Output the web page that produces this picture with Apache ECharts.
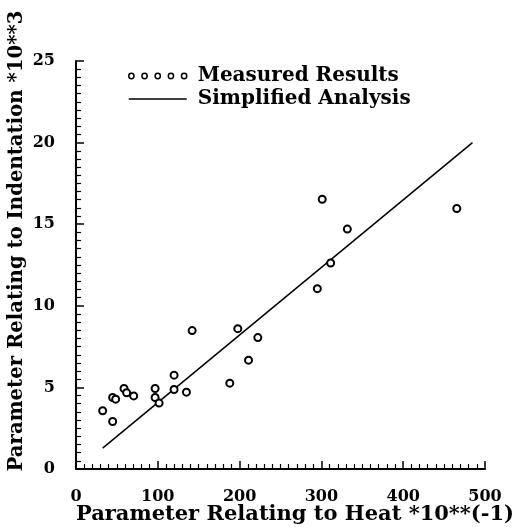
<!DOCTYPE html>
<html>
<head>
<meta charset="utf-8">
<script src="https://cdn.jsdelivr.net/npm/echarts@6/dist/echarts.min.js"></script>
<style>
html,body{margin:0;padding:0;background:#fff;}
#chart{width:523px;height:530px;}
</style>
</head>
<body>
<div id="chart"></div>
<script>
// Measured results
const measuredX = [32.6, 44.8, 44.8, 48.5, 58.7, 61.9, 70.5, 96.7, 96.7, 101.6, 119.9, 119.9, 135, 142, 188, 197.8, 210.9, 222.3, 295, 301, 311.3, 331.7, 465.5];
const measuredY = [3.57, 2.91, 4.38, 4.28, 4.93, 4.67, 4.48, 4.93, 4.38, 4.04, 5.75, 4.87, 4.71, 8.48, 5.26, 8.6, 6.67, 8.05, 11.05, 16.53, 12.62, 14.7, 15.96];
// Simplified analysis line endpoints
const analysisX = [32.6, 484.7];
const analysisY = [1.28, 20.0];
const seriesNames = ['Measured Results', 'Simplified Analysis'];
const xTitle = 'Parameter Relating to Heat *10**(-1)';
const yTitle = 'Parameter Relating to Indentation *10**3';

const FONT = 'DejaVu Serif';
const chart = echarts.init(document.getElementById('chart'));
const fiveCircles = 'path://M6.5,4A2.5,2.5 0 1,1 1.5,4A2.5,2.5 0 1,1 6.5,4Z' +
  'M19,4A2.5,2.5 0 1,1 14,4A2.5,2.5 0 1,1 19,4Z' +
  'M31.5,4A2.5,2.5 0 1,1 26.5,4A2.5,2.5 0 1,1 31.5,4Z' +
  'M44,4A2.5,2.5 0 1,1 39,4A2.5,2.5 0 1,1 44,4Z' +
  'M56.5,4A2.5,2.5 0 1,1 51.5,4A2.5,2.5 0 1,1 56.5,4Z';
const lineIcon = 'path://M0,0L58,0L58,1.5L0,1.5Z';

chart.setOption({
  animation: false,
  backgroundColor: '#fff',
  color: ['#000', '#000'],
  grid: {left: 76, right: 38, top: 61, bottom: 61, containLabel: false, outerBoundsMode: 'none'},
  legend: {
    orient: 'vertical',
    left: 123, top: 61,
    itemWidth: 58, itemHeight: 8, itemGap: 3,
    textStyle: {fontFamily: FONT, fontWeight: 'bold', fontSize: 20, color: '#000', padding: [0, 0, 0, 6]},
    data: [
      {name: seriesNames[0], icon: fiveCircles, itemStyle: {color: '#fff', borderColor: '#000', borderWidth: 1.5}},
      {name: seriesNames[1], icon: lineIcon, itemStyle: {color: '#000', borderWidth: 0}}
    ]
  },
  xAxis: {
    type: 'value', min: 0, max: 500, interval: 100,
    name: xTitle, nameLocation: 'middle', nameGap: 46, nameMoveOverlap: false,
    nameTextStyle: {fontFamily: FONT, fontWeight: 'bold', fontSize: 21, color: '#000', padding: [0, 0, 0, 29], verticalAlign: 'middle'},
    axisLine: {show: true, lineStyle: {color: '#000', width: 2}},
    axisTick: {show: true, inside: true, length: 8, lineStyle: {color: '#000', width: 1.5}},
    minorTick: {show: true, splitNumber: 10, length: 5, lineStyle: {color: '#000', width: 1.2}},
    axisLabel: {fontFamily: FONT, fontWeight: 'bold', fontSize: 16, color: '#000', margin: 20},
    splitLine: {show: false}
  },
  yAxis: {
    type: 'value', min: 0, max: 25, interval: 5,
    name: yTitle, nameLocation: 'middle', nameGap: 59, nameRotate: 90, nameMoveOverlap: false,
    nameTextStyle: {fontFamily: FONT, fontWeight: 'bold', fontSize: 19.7, color: '#000', padding: [0, 0, 0, 48], verticalAlign: 'middle'},
    axisLine: {show: true, lineStyle: {color: '#000', width: 2}},
    axisTick: {show: true, inside: true, length: 8, lineStyle: {color: '#000', width: 1.5}},
    minorTick: {show: true, splitNumber: 10, length: 5, lineStyle: {color: '#000', width: 1.2}},
    axisLabel: {fontFamily: FONT, fontWeight: 'bold', fontSize: 16, color: '#000', margin: 21},
    splitLine: {show: false}
  },
  series: [
    {
      name: seriesNames[0], type: 'scatter',
      symbol: 'circle', symbolSize: 7,
      itemStyle: {color: '#fff', borderColor: '#000', borderWidth: 2, opacity: 1},
      data: measuredX.map((x, i) => [x, measuredY[i]]),
      z: 3
    },
    {
      name: seriesNames[1], type: 'line',
      symbol: 'none', showSymbol: false,
      lineStyle: {color: '#000', width: 1.5},
      data: analysisX.map((x, i) => [x, analysisY[i]]),
      z: 2
    }
  ]
});
</script>
</body>
</html>
